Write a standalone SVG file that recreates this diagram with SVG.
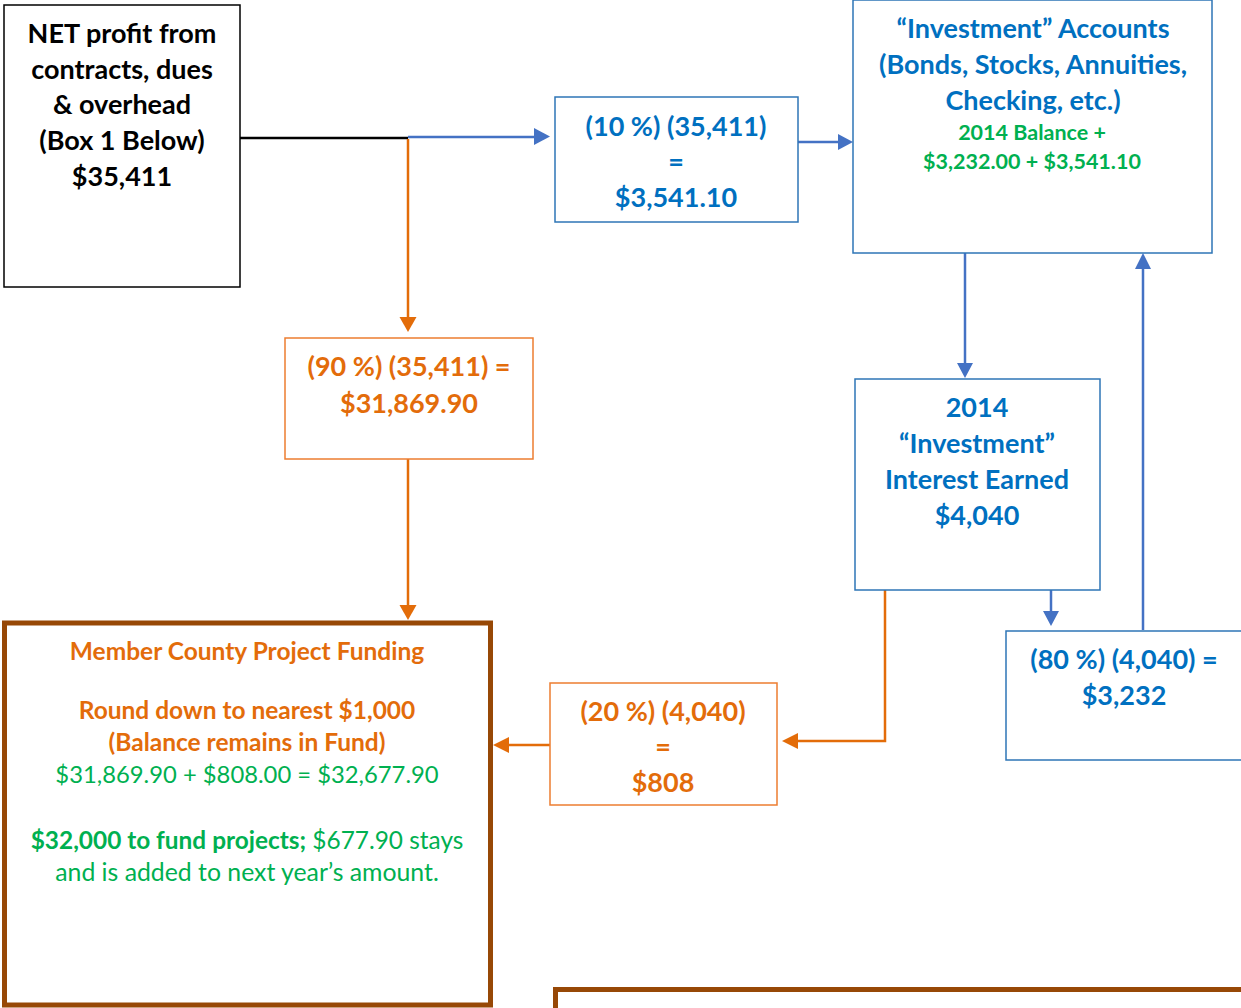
<svg xmlns="http://www.w3.org/2000/svg" width="1241" height="1008" viewBox="0 0 1241 1008">
<defs>
<style>
text{font-family:Lato,"Liberation Sans",sans-serif;text-anchor:middle;font-weight:bold}
.b{fill:#0070C0;font-size:27px}
.k{fill:#000;font-size:27px}
.o{fill:#E36C0A;font-size:27px}
.g{fill:#00B050}
.n{font-weight:normal}
.bx{fill:#fff;stroke:#2E75B6;stroke-width:1.5}
.ox{fill:#fff;stroke:#ED7D31;stroke-width:1.5}
.lb{fill:none;stroke:#4472C4;stroke-width:2.5}
.lo{fill:none;stroke:#E36C09;stroke-width:2.5}
</style>
</defs>
<rect width="1241" height="1008" fill="#fff"/>
<g id="connectors">
<path d="M240,138H408" stroke="#000" stroke-width="2.5" fill="none"/>
<path class="lb" d="M408,137H535"/>
<path d="M534,128L550,136.5L534,145z" fill="#4472C4"/>
<path class="lo" d="M408,139V318"/>
<path d="M399.5,317L408,332L416.5,317z" fill="#E36C09"/>
<path class="lb" d="M798,142H839"/>
<path d="M838,134L853,142L838,150z" fill="#4472C4"/>
<path class="lo" d="M408,459V606"/>
<path d="M399.5,605L408,620L416.5,605z" fill="#E36C09"/>
<path class="lb" d="M965,253V364"/>
<path d="M957,363L965,378L973,363z" fill="#4472C4"/>
<path class="lb" d="M1143,630V268"/>
<path d="M1135,269L1143,253L1151,269z" fill="#4472C4"/>
<path class="lb" d="M1051,590V612"/>
<path d="M1043,611L1051,626L1059,611z" fill="#4472C4"/>
<path class="lo" d="M885,590V741H797"/>
<path d="M798,733L782,741L798,749z" fill="#E36C09"/>
<path class="lo" d="M550,745H508"/>
<path d="M509,737L493,745L509,753z" fill="#E36C09"/>
</g>
<g id="net">
<rect x="4" y="5" width="236" height="282" fill="#fff" stroke="#000" stroke-width="1.5"/>
<text class="k" x="122" y="43">NET profit from</text>
<text class="k" x="122" y="79">contracts, dues</text>
<text class="k" x="122" y="114">&amp; overhead</text>
<text class="k" x="122" y="150">(Box 1 Below)</text>
<text class="k" x="122" y="186">$35,411</text>
</g>
<g id="ten">
<rect class="bx" x="555" y="97" width="243" height="125"/>
<text class="b" x="676" y="136">(10 %) (35,411)</text>
<text class="b" x="676" y="171">=</text>
<text class="b" x="676" y="207">$3,541.10</text>
</g>
<g id="investment">
<rect class="bx" x="853" y="0" width="359" height="253"/>
<text class="b" x="1033" y="38">“Investment” Accounts</text>
<text class="b" x="1033" y="74">(Bonds, Stocks, Annuities,</text>
<text class="b" x="1033" y="110">Checking, etc.)</text>
<text class="g" x="1032" y="140" style="font-size:21.5px">2014 Balance +</text>
<text class="g" x="1032" y="169" style="font-size:21.5px">$3,232.00 + $3,541.10</text>
</g>
<g id="interest">
<rect class="bx" x="855" y="379" width="245" height="211"/>
<text class="b" x="977" y="417">2014</text>
<text class="b" x="977" y="453">“Investment”</text>
<text class="b" x="977" y="489">Interest Earned</text>
<text class="b" x="977" y="525">$4,040</text>
</g>
<g id="eighty">
<rect class="bx" x="1006" y="631" width="250" height="129"/>
<text class="b" x="1124" y="669">(80 %) (4,040) =</text>
<text class="b" x="1124" y="705">$3,232</text>
</g>
<g id="ninety">
<rect class="ox" x="285" y="338" width="248" height="121"/>
<text class="o" x="409" y="376">(90 %) (35,411) =</text>
<text class="o" x="409" y="413">$31,869.90</text>
</g>
<g id="twenty">
<rect class="ox" x="550" y="683" width="227" height="122"/>
<text class="o" x="663" y="721">(20 %) (4,040)</text>
<text class="o" x="663" y="756">=</text>
<text class="o" x="663" y="792">$808</text>
</g>
<g id="member">
<rect x="4.5" y="623" width="486" height="382" fill="#fff" stroke="#974806" stroke-width="5"/>
<text class="o" x="247" y="660" style="font-size:24.5px">Member County Project Funding</text>
<text class="o" x="247" y="719" style="font-size:24.5px">Round down to nearest $1,000</text>
<text class="o" x="247" y="751" style="font-size:24.5px">(Balance remains in Fund)</text>
<text class="g n" x="247" y="783" style="font-size:23.8px">$31,869.90 + $808.00 = $32,677.90</text>
<text class="g" x="247" y="849" style="font-size:24.4px"><tspan>$32,000 to fund projects;</tspan><tspan class="n"> $677.90 stays</tspan></text>
<text class="g n" x="247" y="881" style="font-size:24.8px">and is added to next year’s amount.</text>
</g>
<g id="bottom">
<rect x="555.5" y="989.5" width="700" height="40" fill="#fff" stroke="#974806" stroke-width="5"/>
</g>
</svg>
